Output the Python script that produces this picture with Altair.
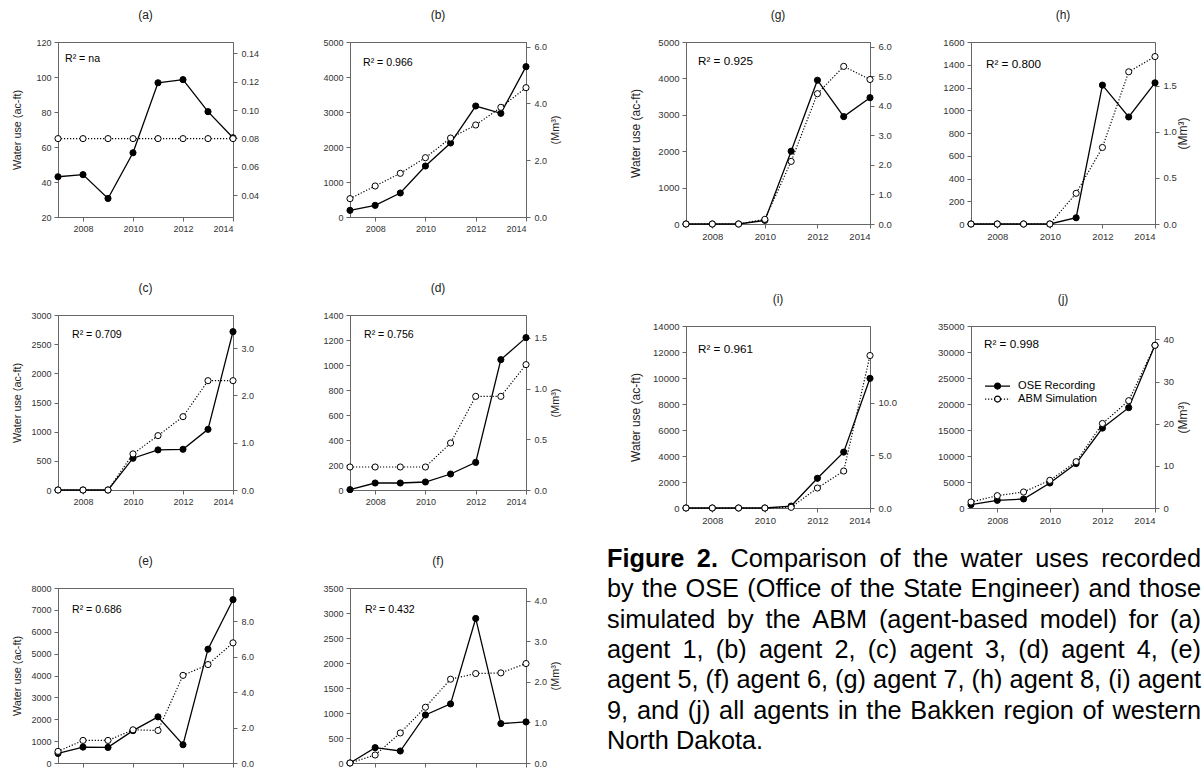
import altair as alt
import pandas as pd

# ---------------- data ----------------
years = [2007, 2008, 2009, 2010, 2011, 2012, 2013, 2014]
x_ticks = [2008, 2010, 2012, 2014]

ose_a = [43.0, 44.2, 30.6, 56.7, 96.7, 98.5, 80.2, 65.3]
abm_a = [64.8, 64.8, 64.8, 64.8, 64.8, 64.8, 64.8, 64.8]
ose_b = [190, 333, 686, 1457, 2114, 3171, 2962, 4295]
abm_b = [524, 886, 1248, 1695, 2257, 2629, 3133, 3695]
ose_c = [0, 0, 0, 545, 687, 698, 1040, 2714]
abm_c = [0, 0, 0, 619, 932, 1257, 1874, 1874]
ose_d = [3, 56, 56, 64, 128, 221, 1043, 1219]
abm_d = [184, 184, 184, 184, 376, 749, 749, 1003]
ose_e = [440, 728, 713, 1480, 2109, 835, 5205, 7466]
abm_e = [531, 1032, 1032, 1517, 1487, 4006, 4500, 5493]
ose_f = [0, 307, 240, 961, 1182, 2891, 788, 821]
abm_f = [0, 160, 601, 1115, 1676, 1789, 1802, 1989]
ose_g = [0, 0, 0, 100, 2000, 3950, 2950, 3470]
abm_g = [0, 0, 0, 128, 1720, 3580, 4330, 3970]
ose_h = [0, 0, 0, 0, 55, 1221, 941, 1241]
abm_h = [0, 0, 0, 0, 270, 673, 1338, 1472]
ose_i = [0, 0, 0, 0, 150, 2285, 4300, 9974]
abm_i = [0, 0, 0, 0, 50, 1538, 2846, 11729]
ose_j = [640, 1474, 1731, 4808, 8550, 15370, 19300, 31300]
abm_j = [1154, 2372, 3077, 5321, 8900, 16250, 20640, 31282]

panel_letters = ["a", "b", "c", "d", "e", "f", "g", "h", "i", "j"]
ose_series = [ose_a, ose_b, ose_c, ose_d, ose_e, ose_f, ose_g, ose_h, ose_i, ose_j]
abm_series = [abm_a, abm_b, abm_c, abm_d, abm_e, abm_f, abm_g, abm_h, abm_i, abm_j]
r2_values = ["na", "0.966", "0.709", "0.756", "0.686", "0.432", "0.925", "0.800", "0.961", "0.998"]

left_domains = [[20, 120], [0, 5000], [0, 3000], [0, 1400], [0, 8000],
                [0, 3500], [0, 5000], [0, 1600], [0, 14000], [0, 35000]]
left_ticks = [
    [20, 40, 60, 80, 100, 120],
    [0, 1000, 2000, 3000, 4000, 5000],
    [0, 500, 1000, 1500, 2000, 2500, 3000],
    [0, 200, 400, 600, 800, 1000, 1200, 1400],
    [0, 1000, 2000, 3000, 4000, 5000, 6000, 7000, 8000],
    [0, 500, 1000, 1500, 2000, 2500, 3000, 3500],
    [0, 1000, 2000, 3000, 4000, 5000],
    [0, 200, 400, 600, 800, 1000, 1200, 1400, 1600],
    [0, 2000, 4000, 6000, 8000, 10000, 12000, 14000],
    [0, 5000, 10000, 15000, 20000, 25000, 30000, 35000],
]
right_ticks = [
    [0.04, 0.06, 0.08, 0.10, 0.12, 0.14],
    [0, 2, 4, 6],
    [0, 1, 2, 3],
    [0, 0.5, 1, 1.5],
    [0, 2, 4, 6, 8],
    [0, 1, 2, 3, 4],
    [0, 1, 2, 3, 4, 5, 6],
    [0, 0.5, 1, 1.5],
    [0, 5, 10],
    [0, 10, 20, 30, 40],
]
right_formats = [".2f", ".1f", ".1f", ".1f", ".1f", ".1f", ".1f", ".1f", ".1f", "d"]
series_names = ["OSE Recording", "ABM Simulation"]

caption_lines = [
    "Figure 2. Comparison of the water uses recorded",
    "by the OSE (Office of the State Engineer) and those",
    "simulated by the ABM (agent-based model) for (a)",
    "agent 1, (b) agent 2, (c) agent 3, (d) agent 4, (e)",
    "agent 5, (f) agent 6, (g) agent 7, (h) agent 8, (i) agent",
    "9, and (j) all agents in the Bakken region of western",
    "North Dakota.",
]
caption_bold_words = 2   # "Figure 2." is bold

# ---------------- styling ----------------
K = 0.00123348  # Mm3 per acre-foot
FONT = "Liberation Sans"
AXIS_COLOR = "#666"

left_style = dict(tick=9, title=10.8, r2=10.6, lext=27, ltp=9, rext=21, rtp=13, h=175)
right_style = dict(tick=9.5, title=12, r2=11.7, lext=34, ltp=9.5, rext=22, rtp=12, h=182)
r2_pos = [(7, 17), (13, 21), (14, 20), (14, 20), (14, 22), (15, 22), (12, 19), (15, 22), (12, 23), (13, 18)]

# legend line symbol: two segments leaving a gap where the circle sits (units of 3 px)
LEG_LINE_PATH = "M-4.167,0H-1.1M1.1,0H4.167"


def legend_props(**extra):
    return dict(orient="none", legendX=21, legendY=54.5, title=None,
                labelFont=FONT, labelFontSize=11.1, labelColor="black",
                symbolSize=36, symbolStrokeColor="black", symbolStrokeWidth=1.2,
                symbolOpacity=1, labelOffset=15, rowPadding=1, padding=0, **extra)


def make_panel(idx, width, st, show_left, show_right, x_labels=True, legend=False):
    key = panel_letters[idx]
    df = pd.DataFrame({"year": years, "ose": ose_series[idx], "abm": abm_series[idx]})
    df["abm_mm3"] = df["abm"] * K
    lo, hi = left_domains[idx]

    xenc = alt.X("year:Q",
                 scale=alt.Scale(domain=[2007, 2014], nice=False, zero=False),
                 axis=alt.Axis(values=x_ticks, format="d", title=None, labels=x_labels,
                               labelFontSize=st["tick"], labelPadding=3, tickSize=4, grid=False))
    yscale = alt.Scale(domain=[lo, hi], nice=False, zero=False)
    lkw = dict(values=left_ticks[idx], format="d", labelFontSize=st["tick"], labelPadding=3, tickSize=4,
               minExtent=st["lext"], maxExtent=st["lext"], grid=False)
    if show_left:
        yaxis = alt.Axis(title="Water use (ac-ft)", titleFontSize=st["title"], titlePadding=st["ltp"], **lkw)
    else:
        yaxis = alt.Axis(title=None, **lkw)

    base = alt.Chart(df)
    y_ose = alt.Y("ose:Q", scale=yscale, axis=yaxis)
    y_abm = alt.Y("abm:Q", scale=yscale, axis=yaxis)
    ose_line = base.mark_line(color="black", strokeWidth=1.3).encode(x=xenc, y=y_ose)
    abm_line = base.mark_line(color="black", strokeWidth=1.2, strokeDash=[1.2, 1.8]).encode(x=xenc, y=y_abm)
    ose_pts = base.mark_point(shape="circle", filled=True, fill="black", stroke="black",
                              strokeWidth=1, size=38, opacity=1).encode(x=xenc, y=y_ose)
    abm_pts = base.mark_point(shape="circle", filled=True, fill="white", stroke="black",
                              strokeWidth=1, size=38, opacity=1).encode(x=xenc, y=y_abm)
    r2 = alt.Chart(pd.DataFrame({"label": ["R\u00b2 = " + r2_values[idx]]})).mark_text(
        align="left", baseline="middle", font=FONT, fontSize=st["r2"], color="black").encode(
        x=alt.value(r2_pos[idx][0]), y=alt.value(r2_pos[idx][1]), text="label:N")
    ttl = alt.Chart(pd.DataFrame({"t": [f"({key})"]})).mark_text(
        align="center", baseline="middle", font=FONT, fontSize=12, color="#222").encode(
        x=alt.value(width / 2), y=alt.value(-27), text="t:N")

    layers = [ose_line, abm_line, ose_pts, abm_pts, r2, ttl]

    if legend:
        leg_lines = alt.Legend(**legend_props(symbolType=LEG_LINE_PATH, labelOpacity=0))
        leg_dots = alt.Legend(**legend_props(symbolType="circle"))
        line_names = [n + " " for n in series_names]
        leg_line_layer = base.transform_filter("false").mark_line(color="black", strokeWidth=1.2).encode(
            x=xenc, y=y_ose,
            strokeDash=alt.StrokeDash("series_line:N",
                                      scale=alt.Scale(domain=line_names, range=[[1, 0], [1.2, 1.8]]),
                                      legend=leg_lines))
        leg_dot_layer = base.transform_filter("false").mark_point(
            shape="circle", filled=True, stroke="black", strokeWidth=1.2, size=36, opacity=1).encode(
            x=xenc, y=y_ose,
            fill=alt.Fill("series:N", scale=alt.Scale(domain=series_names, range=["black", "white"]),
                          legend=leg_dots))
        layers += [leg_line_layer, leg_dot_layer]

    left = alt.layer(*layers)

    rkw = dict(orient="right", values=right_ticks[idx], format=right_formats[idx],
               labelFontSize=st["tick"], labelPadding=4, tickSize=4,
               minExtent=st["rext"], maxExtent=st["rext"], grid=False)
    if show_right:
        raxis = alt.Axis(title="(Mm\u00b3)", titleAngle=270, titleFontSize=st["title"],
                         titlePadding=st["rtp"], **rkw)
    else:
        raxis = alt.Axis(title=None, **rkw)
    right = base.mark_point(opacity=0).encode(
        x=xenc,
        y=alt.Y("abm_mm3:Q", scale=alt.Scale(domain=[lo * K, hi * K], nice=False, zero=False), axis=raxis))

    return alt.layer(left, right).resolve_scale(y="independent").properties(width=width, height=st["h"])


pa = make_panel(0, 175, left_style, True, False)
pb = make_panel(1, 176, left_style, False, True)
pc = make_panel(2, 175, left_style, True, False)
pd_ = make_panel(3, 176, left_style, False, True)
pe = make_panel(4, 175, left_style, True, False, x_labels=False)
pf = make_panel(5, 176, left_style, False, True, x_labels=False)
pg = make_panel(6, 184, right_style, True, False)
ph = make_panel(7, 184, right_style, False, True)
pi = make_panel(8, 184, right_style, True, False)
pj = make_panel(9, 184, right_style, False, True, legend=True)

# ---------------- caption (justified like the original) ----------------
CAP_X = -79        # caption left edge relative to the (i) plot's left edge
CAP_W = 594        # justified line width in px
CAP_FS = 25.3
CAP_TOP = -51      # centre of the first caption line relative to its cell top
CAP_STEP = 30.3

# Arial / Liberation Sans advance widths (1/1000 em)
W_REG = {' ': 278, '(': 333, ')': 333, ',': 278, '.': 278, '-': 333,
         'A': 667, 'B': 667, 'C': 722, 'D': 722, 'E': 667, 'F': 611, 'M': 833, 'N': 722, 'O': 778, 'S': 667,
         'a': 556, 'b': 556, 'c': 500, 'd': 556, 'e': 556, 'f': 278, 'g': 556, 'h': 556, 'i': 222,
         'j': 222, 'k': 500, 'l': 222, 'm': 833, 'n': 556, 'o': 556, 'p': 556, 'r': 333, 's': 500,
         't': 278, 'u': 556, 'v': 500, 'w': 722, 'y': 500}
W_BOLD = {' ': 278, '.': 278, 'F': 611, 'i': 278, 'g': 611, 'u': 611, 'r': 389, 'e': 556}


def word_width(w, bold):
    table = W_BOLD if bold else W_REG
    return sum(table.get(ch, 556) for ch in w) * CAP_FS / 1000.0


rows = []
for li, line in enumerate(caption_lines):
    words = line.split(" ")
    bold_flags = [li == 0 and wi < caption_bold_words for wi in range(len(words))]
    widths = [word_width(w, b) for w, b in zip(words, bold_flags)]
    space = W_REG[' '] * CAP_FS / 1000.0
    if li < len(caption_lines) - 1 and len(words) > 1:
        gap = (CAP_W - sum(widths)) / (len(words) - 1)
    else:
        gap = space
    xpos = 0.0
    for w, b, wd in zip(words, bold_flags, widths):
        rows.append({"line": li, "x": xpos, "word": w, "bold": b})
        xpos += wd + gap
cap_words = pd.DataFrame(rows)

n_cap = len(caption_lines)
cap_y = alt.Y("line:O", axis=None,
              scale=alt.Scale(type="point", padding=0, domain=list(range(n_cap)),
                              range=[CAP_TOP, CAP_TOP + CAP_STEP * (n_cap - 1)]))
cap_x = alt.X("x:Q", axis=None, scale=alt.Scale(domain=[0, CAP_W], range=[CAP_X, CAP_X + CAP_W]))

cap_reg = alt.Chart(cap_words[~cap_words["bold"]]).mark_text(
    align="left", baseline="middle", font=FONT, fontSize=CAP_FS, color="black").encode(
    x=cap_x, y=cap_y, text="word:N")
cap_bold = alt.Chart(cap_words[cap_words["bold"]]).mark_text(
    align="left", baseline="middle", font=FONT, fontSize=CAP_FS, fontWeight="bold", color="black").encode(
    x=cap_x, y=cap_y, text="word:N")
caption = alt.layer(cap_bold, cap_reg).properties(
    width=184, height=100, view=alt.ViewBackground(stroke="transparent"))

# ---------------- layout ----------------
ind = dict(fill="independent", strokeDash="independent")
left_block = alt.concat(pa, pb, pc, pd_, pe, pf, columns=2, bounds="flush",
                        spacing={"row": 98, "column": 117}).resolve_scale(**ind)
right_block = alt.concat(pg, ph, pi, pj, caption, columns=2, bounds="flush",
                         spacing={"row": 102, "column": 101}).resolve_scale(**ind)

# flush root: nested blocks have no own width, so the spacing is the offset of the right block
chart = alt.hconcat(left_block, right_block, spacing=628, bounds="flush").resolve_scale(**ind).properties(
    padding={"left": 10, "top": 8, "right": 0, "bottom": 0},
    autosize=alt.AutoSizeParams(type="pad"),
    background="white",
).configure_view(
    stroke=AXIS_COLOR, strokeWidth=1
).configure_axis(
    labelFont=FONT, titleFont=FONT, labelColor="#333", titleColor="#222",
    domainColor=AXIS_COLOR, tickColor=AXIS_COLOR, titleFontWeight="normal",
    domainWidth=1, tickWidth=1, grid=False
)

chart.save("out.html", embed_options={"renderer": "svg", "actions": False})
